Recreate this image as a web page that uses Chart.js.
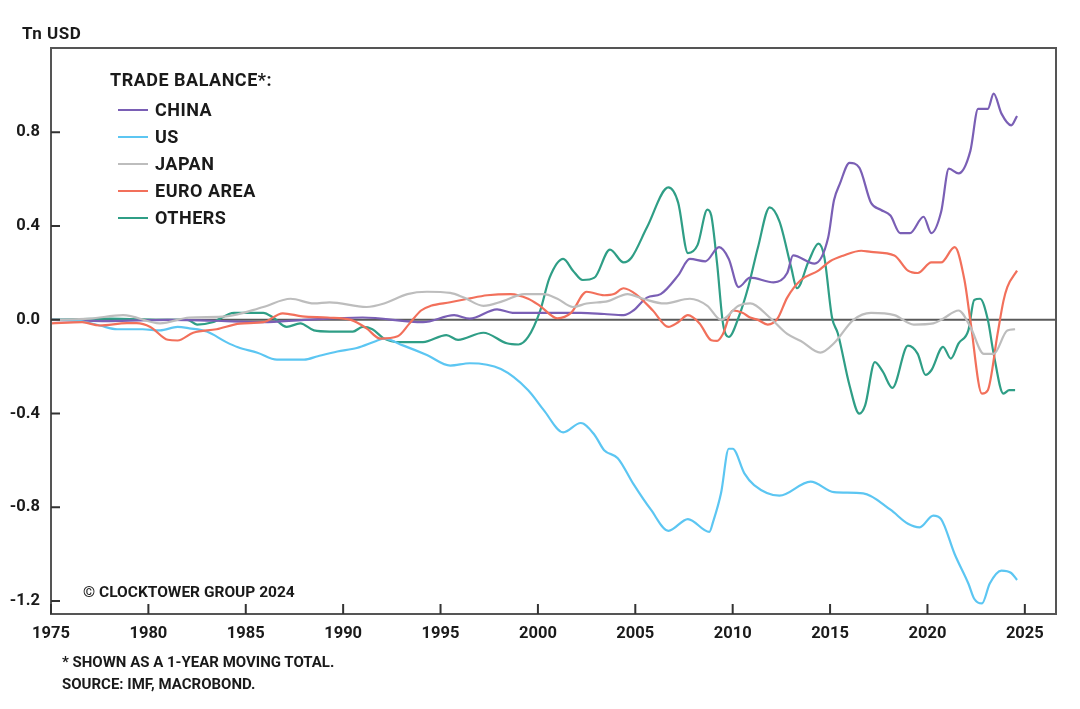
<!DOCTYPE html>
<html>
<head>
<meta charset="utf-8">
<script src="https://cdn.jsdelivr.net/npm/chart.js@4"></script>
<style>
  html, body { margin: 0; padding: 0; background: #fff; }
  #wrap { position: relative; width: 1080px; height: 709px; overflow: hidden; font-family: Roboto, "Noto Sans", sans-serif; font-weight: 700; color: #1a1a1a; }
  #c { position: absolute; left: 0; top: 0; }
  .t { position: absolute; white-space: nowrap; font-size: 16px; line-height: 20px; }
  #legend { position: absolute; left: 0; top: 0; }
  #legend .title { position: absolute; left: 110px; top: 70px; font-size: 18px; line-height: 20px; letter-spacing: 0.5px; white-space: nowrap; }
  #legend .sw { position: absolute; left: 118px; width: 30px; height: 2.4px; }
  #legend .lab { position: absolute; left: 155px; font-size: 18px; line-height: 20px; letter-spacing: 0.5px; white-space: nowrap; }
</style>
</head>
<body>
<div id="wrap">
  <canvas id="c" width="1080" height="709"></canvas>
  <div class="t" style="left:22px; top:23px; font-size:17px; letter-spacing:0.5px;">Tn USD</div>
  <div id="legend"></div>
  <div class="t" style="left:83px; top:582px; font-size:15.5px;">© CLOCKTOWER GROUP 2024</div>
  <div class="t" style="left:62px; top:652px; font-size:15px;">* SHOWN AS A 1-YEAR MOVING TOTAL.</div>
  <div class="t" style="left:62px; top:674px; font-size:15px;">SOURCE: IMF, MACROBOND.</div>
</div>
<script>
// ---- DATA ----
const seriesNames = ["CHINA", "US", "JAPAN", "EURO AREA", "OTHERS"];
const yTickValues = [-1.2, -0.8, -0.4, 0.0, 0.4, 0.8];
const xTickValues = [1975, 1980, 1985, 1990, 1995, 2000, 2005, 2010, 2015, 2020, 2025];

const chinaYears = [1975, 1978, 1981, 1984, 1985.9, 1988, 1991, 1994.1, 1995.7, 1996.5, 1997.9, 1998.7, 1999.6, 2001, 2002.2, 2003.4, 2004.4, 2004.9, 2005.6, 2006.3, 2007.2, 2007.8, 2008.6, 2009.3, 2009.8, 2010.3, 2010.9, 2012.1, 2012.8, 2013.1, 2014.2, 2014.9, 2015.2, 2015.5, 2016, 2016.5, 2017.1, 2017.6, 2018.1, 2018.6, 2019.1, 2019.8, 2020.2, 2020.7, 2021.1, 2021.6, 2022.2, 2022.6, 2023.1, 2023.4, 2023.8, 2024.3, 2024.6];
const chinaValues = [0, -0.005, 0, -0.005, -0.01, 0, 0.01, -0.01, 0.02, 0.005, 0.045, 0.03, 0.03, 0.03, 0.03, 0.025, 0.02, 0.04, 0.095, 0.11, 0.19, 0.26, 0.25, 0.31, 0.26, 0.14, 0.18, 0.16, 0.2, 0.275, 0.24, 0.35, 0.51, 0.58, 0.67, 0.65, 0.50, 0.47, 0.445, 0.37, 0.37, 0.44, 0.37, 0.46, 0.645, 0.625, 0.72, 0.90, 0.90, 0.965, 0.88, 0.83, 0.87];

const usYears = [1975, 1976, 1977.5, 1978.4, 1979.7, 1980.6, 1981.5, 1982.1, 1983, 1984, 1984.6, 1985.6, 1986.6, 1988, 1988.7, 1989.7, 1990.7, 1991.7, 1992.1, 1993.1, 1994.3, 1995.5, 1996.5, 1998.1, 1999.5, 2000.3, 2001.3, 2002.2, 2002.9, 2003.4, 2004.1, 2004.9, 2005.8, 2006.7, 2007.7, 2008.8, 2009.0, 2009.4, 2009.8, 2010.0, 2010.6, 2011.1, 2012.4, 2014, 2015.2, 2016.7, 2018.1, 2019, 2019.6, 2020.3, 2020.7, 2021.4, 2022.1, 2022.4, 2022.8, 2023.2, 2023.8, 2024.3, 2024.6];
const usValues = [0, 0, -0.024, -0.04, -0.04, -0.045, -0.03, -0.036, -0.05, -0.095, -0.117, -0.14, -0.17, -0.17, -0.155, -0.135, -0.12, -0.09, -0.08, -0.11, -0.15, -0.195, -0.185, -0.21, -0.30, -0.385, -0.48, -0.44, -0.49, -0.556, -0.59, -0.70, -0.81, -0.90, -0.85, -0.905, -0.86, -0.74, -0.55, -0.55, -0.655, -0.705, -0.75, -0.69, -0.735, -0.74, -0.81, -0.87, -0.885, -0.835, -0.85, -1.0, -1.125, -1.19, -1.21, -1.125, -1.07, -1.08, -1.11];

const japanYears = [1975, 1977, 1978.7, 1980.6, 1982.1, 1984, 1985.9, 1987.3, 1988.5, 1989.3, 1991.2, 1992.1, 1993.3, 1994.3, 1995.5, 1996.2, 1997.2, 1998.2, 1999.3, 2000.3, 2001, 2001.8, 2002.5, 2003.6, 2004.6, 2005.4, 2006.5, 2007.8, 2008.7, 2009.4, 2010.3, 2010.9, 2011.9, 2012.8, 2013.5, 2014.5, 2015.2, 2016.2, 2017.1, 2018.3, 2019.3, 2020.3, 2020.8, 2021.6, 2022.2, 2022.9, 2023.4, 2024.1, 2024.5];
const japanValues = [0, 0.005, 0.02, -0.015, 0.01, 0.015, 0.055, 0.09, 0.07, 0.075, 0.055, 0.07, 0.11, 0.12, 0.115, 0.095, 0.06, 0.08, 0.11, 0.11, 0.09, 0.055, 0.07, 0.08, 0.11, 0.09, 0.07, 0.09, 0.06, 0.0, 0.06, 0.07, 0.01, -0.06, -0.09, -0.14, -0.1, 0, 0.03, 0.02, -0.02, -0.015, 0.005, 0.04, -0.03, -0.145, -0.145, -0.045, -0.04];

const euroYears = [1975, 1976.6, 1977.5, 1978.9, 1979.4, 1980.1, 1981, 1981.5, 1982.3, 1983.5, 1984.7, 1985.9, 1986.9, 1987.9, 1989.2, 1990.4, 1991.2, 1991.9, 1992.8, 1993.4, 1994, 1994.5, 1995.5, 1996.4, 1997.4, 1998.6, 1999.5, 2000.1, 2001, 2001.7, 2002.5, 2003.4, 2003.9, 2004.4, 2005.1, 2005.9, 2006.7, 2007.2, 2007.7, 2008.3, 2008.9, 2009.2, 2009.5, 2010.0, 2010.5, 2010.9, 2011.3, 2011.8, 2012.3, 2012.8, 2013.5, 2014.4, 2015, 2015.7, 2016.6, 2017.1, 2018.3, 2019, 2019.5, 2020.2, 2020.7, 2021.4, 2021.9, 2022.2, 2022.8, 2023.1, 2023.6, 2023.9, 2024.1, 2024.6];
const euroValues = [-0.015, -0.01, -0.024, -0.014, -0.014, -0.03, -0.085, -0.088, -0.055, -0.04, -0.016, -0.01, 0.028, 0.015, 0.01, 0, -0.036, -0.08, -0.07, -0.016, 0.04, 0.06, 0.075, 0.09, 0.105, 0.11, 0.09, 0.06, 0.007, 0.03, 0.12, 0.105, 0.11, 0.135, 0.105, 0.04, -0.03, -0.01, 0.02, -0.015, -0.087, -0.09, -0.06, 0.04, 0.03, 0.01, 0, -0.02, 0.005, 0.095, 0.17, 0.21, 0.25, 0.275, 0.295, 0.29, 0.275, 0.21, 0.2, 0.245, 0.245, 0.31, 0.17, 0.0, -0.315, -0.30, -0.06, 0.08, 0.14, 0.21];

const othersYears = [1975, 1978, 1981, 1982, 1982.5, 1983.3, 1984.4, 1985.9, 1986.4, 1987.1, 1987.8, 1988.5, 1989.3, 1990.5, 1991, 1991.5, 1992.1, 1992.9, 1994.1, 1995.3, 1995.9, 1997.2, 1998.4, 1999, 1999.5, 2000.1, 2000.6, 2001.3, 2001.8, 2002.3, 2002.9, 2003.7, 2004.4, 2004.8, 2005.6, 2006.7, 2007.2, 2007.7, 2008.2, 2008.7, 2008.9, 2009.2, 2009.5, 2009.8, 2010.3, 2010.8, 2011.3, 2011.9, 2012.4, 2013, 2013.3, 2013.9, 2014.4, 2014.7, 2015.1, 2015.4, 2016, 2016.5, 2016.8, 2017.3, 2017.7, 2018.2, 2019, 2019.5, 2019.9, 2020.2, 2020.8, 2021.2, 2021.6, 2022.1, 2022.4, 2022.7, 2023.1, 2023.4, 2023.9, 2024.2, 2024.5];
const othersValues = [0, 0.005, 0, 0, -0.02, -0.01, 0.03, 0.03, 0.01, -0.03, -0.015, -0.045, -0.05, -0.05, -0.03, -0.04, -0.08, -0.095, -0.095, -0.065, -0.085, -0.055, -0.1, -0.105, -0.073, 0.035, 0.18, 0.26, 0.21, 0.17, 0.18, 0.3, 0.245, 0.265, 0.395, 0.565, 0.50, 0.285, 0.32, 0.47, 0.445, 0.24, -0.015, -0.073, 0.01, 0.14, 0.31, 0.48, 0.42, 0.225, 0.135, 0.25, 0.325, 0.27, 0.01, -0.058, -0.28, -0.40, -0.365, -0.18, -0.22, -0.29, -0.11, -0.145, -0.235, -0.215, -0.115, -0.165, -0.10, -0.045, 0.085, 0.09, 0.0, -0.145, -0.315, -0.30, -0.30];

// ---- STYLE ----
const colors = ["#7a5fb5", "#5cc6f2", "#bdbdbd", "#f2705b", "#2f9e86"];
const yearsList = [chinaYears, usYears, japanYears, euroYears, othersYears];
const valuesList = [chinaValues, usValues, japanValues, euroValues, othersValues];
const drawOrder = [2, 3, 1, 0, 4];

const datasets = seriesNames.map((name, i) => ({
  label: name,
  data: yearsList[i].map((yr, k) => ({ x: yr, y: valuesList[i][k] })),
  borderColor: colors[i],
  backgroundColor: colors[i],
  borderWidth: 2.2,
  pointRadius: 0,
  cubicInterpolationMode: 'monotone',
  order: drawOrder.indexOf(i)
}));

// legend (HTML, built from datasets)
const lg = document.getElementById('legend');
lg.innerHTML = '<div class="title">TRADE BALANCE*:</div>' +
  datasets.map((d, k) => {
    const cy = 110 + 27 * k;
    return `<div class="sw" style="top:${cy - 1}px;background:${d.borderColor}"></div>` +
           `<div class="lab" style="top:${cy - 10}px">${d.label}</div>`;
  }).join('');

const AXIS_COLOR = '#555';
const framePlugin = {
  id: 'frame',
  beforeDatasetsDraw(chart) {
    const { ctx, chartArea: a, scales } = chart;
    const y0 = scales.y.getPixelForValue(0);
    ctx.save();
    ctx.strokeStyle = '#5a5a5a';
    ctx.lineWidth = 2;
    ctx.beginPath();
    ctx.moveTo(a.left, y0); ctx.lineTo(a.right, y0);
    ctx.stroke();
    ctx.restore();
  },
  afterDraw(chart) {
    const { ctx, chartArea: a, scales } = chart;
    ctx.save();
    ctx.strokeStyle = AXIS_COLOR;
    ctx.lineWidth = 2;
    ctx.strokeRect(a.left, a.top, a.right - a.left, a.bottom - a.top);
    ctx.strokeStyle = '#333';
    ctx.lineWidth = 2;
    ctx.beginPath();
    xTickValues.forEach(v => {
      const px = scales.x.getPixelForValue(v);
      ctx.moveTo(px, a.bottom); ctx.lineTo(px, a.bottom - 10);
    });
    yTickValues.forEach(v => {
      const py = scales.y.getPixelForValue(v);
      ctx.moveTo(a.left, py); ctx.lineTo(a.left + 9, py);
    });
    ctx.stroke();
    ctx.restore();
  }
};

Chart.defaults.font.family = 'Roboto, "Noto Sans", sans-serif';
Chart.defaults.font.weight = 'bold';
Chart.defaults.font.size = 16.5;
Chart.defaults.color = '#1a1a1a';

new Chart(document.getElementById('c'), {
  type: 'line',
  data: { datasets },
  options: {
    responsive: false,
    animation: false,
    layout: { padding: { left: 0, top: 48, right: 24, bottom: 0 } },
    plugins: { legend: { display: false }, tooltip: { enabled: false } },
    scales: {
      x: {
        type: 'linear',
        min: 1975, max: 2026.6,
        afterBuildTicks: s => { s.ticks = xTickValues.map(v => ({ value: v })); },
        afterFit: s => { s.height = 95; },
        ticks: { padding: 10, callback: v => String(v), maxRotation: 0, autoSkip: false },
        grid: { display: false, drawTicks: false },
        border: { display: false }
      },
      y: {
        min: -1.255, max: 1.16,
        afterBuildTicks: s => { s.ticks = yTickValues.map(v => ({ value: v })); },
        afterFit: s => { s.width = 51; },
        ticks: { padding: 11, callback: v => v.toFixed(1) },
        grid: { display: false, drawTicks: false },
        border: { display: false }
      }
    }
  },
  plugins: [framePlugin]
});
</script>
</body>
</html>
